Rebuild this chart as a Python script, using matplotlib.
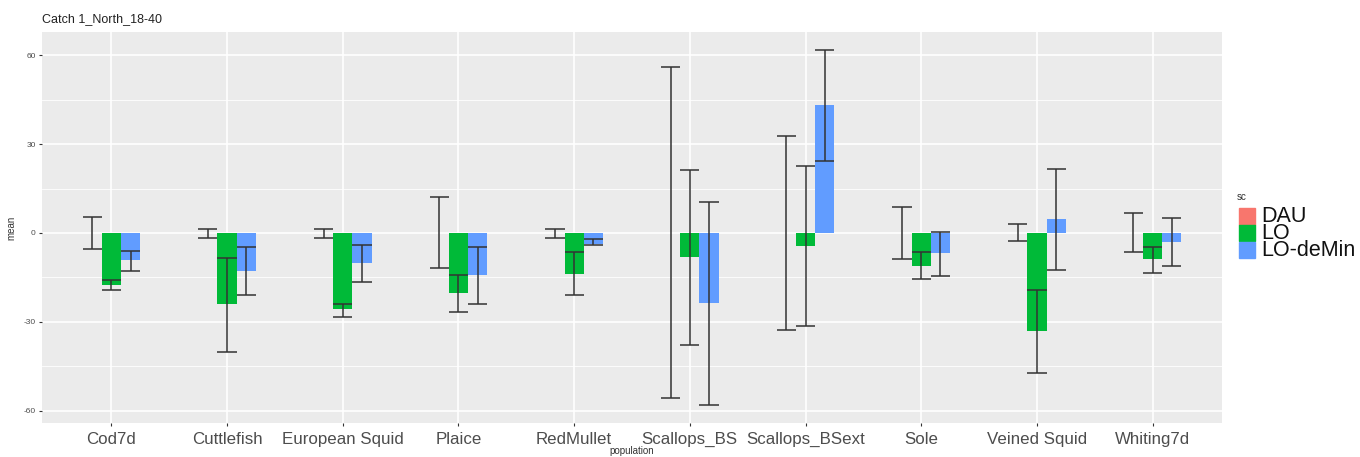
import numpy as np
import matplotlib
matplotlib.use("Agg")
import matplotlib.pyplot as plt
from matplotlib.patches import Rectangle

plt.rcParams["font.family"] = ["Liberation Sans", "DejaVu Sans"]
plt.rcParams["axes.unicode_minus"] = False

populations = ["Cod7d", "Cuttlefish", "European Squid", "Plaice", "RedMullet",
               "Scallops_BS", "Scallops_BSext", "Sole", "Veined Squid", "Whiting7d"]
scenarios = ["DAU", "LO", "LO-deMin"]

# mean per scenario and population
mean_dau = [0, 0, 0, 0, 0, 0, 0, 0, 0, 0]
mean_lo = [-17.7, -24.1, -25.8, -20.2, -13.7, -8.0, -4.4, -11.0, -33.1, -8.7]
mean_demin = [-9.2, -12.9, -10.2, -14.2, -3.8, -23.5, 43.1, -6.7, 4.8, -2.9]

# interval ends for the error bars
upper_dau = [5.3, 1.5, 1.5, 12.2, 1.4, 56.1, 32.9, 8.7, 2.9, 6.6]
lower_dau = [-5.3, -1.6, -1.6, -12.0, -1.6, -55.9, -32.8, -8.7, -2.8, -6.4]
upper_lo = [-15.9, -8.4, -23.9, -14.2, -6.5, 21.2, 22.5, -6.5, -19.1, -4.8]
lower_lo = [-19.3, -40.2, -28.4, -26.6, -20.9, -37.7, -31.4, -15.5, -47.2, -13.4]
upper_demin = [-6.1, -4.8, -4.1, -4.7, -2.2, 10.4, 61.9, 0.4, 21.7, 5.1]
lower_demin = [-12.9, -21.1, -16.6, -24.1, -3.9, -58.2, 24.3, -14.6, -12.5, -11.2]

colors = ["#F8766D", "#00BA38", "#619CFF"]
means = [mean_dau, mean_lo, mean_demin]
uppers = [upper_dau, upper_lo, upper_demin]
lowers = [lower_dau, lower_lo, lower_demin]

fig = plt.figure(figsize=(13.6, 4.57), dpi=100)
ax = fig.add_axes([0.0309, 0.0744, 0.8676, 0.8556])
ax.set_facecolor("#EBEBEB")

x = np.arange(1, len(populations) + 1)
w = 1 / 6
for k in range(3):
    pos = x + (k - 1) * w
    ax.bar(pos, means[k], width=w, color=colors[k], zorder=2)
    ax.vlines(pos, lowers[k], uppers[k], color="#333333", lw=1.1, zorder=3)
    ax.hlines(uppers[k], pos - w / 2, pos + w / 2, color="#333333", lw=1.1, zorder=3)
    ax.hlines(lowers[k], pos - w / 2, pos + w / 2, color="#333333", lw=1.1, zorder=3)

ax.set_xlim(0.4, len(populations) + 0.6)
ax.set_ylim(-64.2, 67.9)
ax.set_xticks(x)
ax.set_xticklabels(populations, fontsize=12.2, color="#4D4D4D")
ax.set_yticks([-60, -30, 0, 30, 60])
ax.set_yticks([-45, -15, 15, 45], minor=True)
ax.tick_params(axis="y", which="major", labelsize=6, labelcolor="#4D4D4D",
               color="#333333", length=2.5, width=0.8, pad=2)
ax.tick_params(axis="y", which="minor", length=0)
ax.tick_params(axis="x", color="#333333", length=2.5, width=0.8, pad=4)
ax.grid(which="major", color="white", lw=1.2, zorder=0)
ax.grid(which="minor", axis="y", color="white", lw=0.6, zorder=0)
ax.set_axisbelow(True)
for s in ax.spines.values():
    s.set_visible(False)

ax.set_ylabel("mean", fontsize=7, color="#333333", labelpad=5)
fig.text(632 / 1360, 1 - 451 / 457, "population", fontsize=7, color="#333333",
         ha="center", va="center")
fig.text(0.0309, 0.945, "Catch 1_North_18-40", fontsize=9, color="#222222",
         ha="left", va="bottom")

# legend drawn by hand so the keys sit close together
fig.text(1237 / 1360, 1 - 197 / 457, "sc", fontsize=7, color="#333333",
         ha="left", va="center")
for k, name in enumerate(scenarios):
    top = 208 + k * 16.8
    fig.patches.append(Rectangle((1239 / 1360, 1 - (top + 16.5) / 457), 16 / 1360,
                                 16.5 / 457, transform=fig.transFigure,
                                 color=colors[k]))
    fig.text(1261 / 1360, 1 - (top + 9) / 457, name, fontsize=15.5,
             color="#111111", ha="left", va="center")

fig.savefig("out.png", dpi=100)
